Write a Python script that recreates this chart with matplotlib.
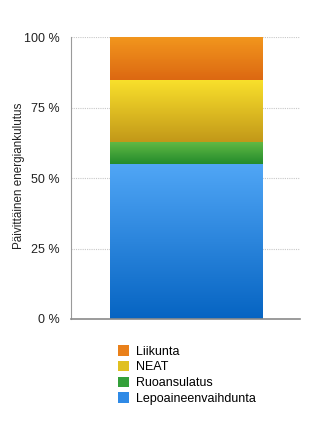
import matplotlib.pyplot as plt
import numpy as np
from matplotlib.patches import Patch
from matplotlib.colors import LinearSegmentedColormap

plt.rcParams['font.family'] = ['Liberation Sans', 'DejaVu Sans']

categories = ['Lepoaineenvaihdunta', 'Ruoansulatus', 'NEAT', 'Liikunta']
shares = [55, 8, 22, 15]
# top and bottom colour of each gradient segment
top_colors = ['#50a6f6', '#64ba45', '#f9e02b', '#f2961d']
bottom_colors = ['#0664c2', '#238c2c', '#c29819', '#dc6812']
legend_colors = ['#2f8ae6', '#34a03a', '#e0c020', '#e9801a']
yticks = [0, 25, 50, 75, 100]

fig = plt.figure(figsize=(3.23, 4.32), dpi=100)
ax = fig.add_axes([0.2198, 0.2616, 0.709, 0.6516])

bottom = 0
for share, c_top, c_bot in zip(shares, top_colors, bottom_colors):
    bars = ax.bar(0, share, bottom=bottom, width=0.664, color='none', linewidth=0)
    rect = bars[0]
    cmap = LinearSegmentedColormap.from_list('g', [c_bot, c_top])
    grad = np.linspace(0, 1, 256).reshape(-1, 1)
    im = ax.imshow(grad, cmap=cmap, origin='lower', aspect='auto',
                   extent=(-0.332, 0.332, bottom, bottom + share), zorder=2)
    im.set_clip_path(rect)
    bottom += share

ax.set_xlim(-0.502, 0.498)
ax.set_ylim(0, 100)
ax.set_yticks(yticks)
ax.set_yticklabels([f'{t} %' for t in yticks], fontsize=9)
ax.set_xticks([])
ax.tick_params(axis='y', length=0, pad=8, colors='#222222')
for t in yticks[1:]:
    ax.axhline(t, color='#c8c8c8', linestyle=(0, (1, 1)), linewidth=0.8, zorder=1)

for side in ['top', 'right']:
    ax.spines[side].set_visible(False)
ax.spines['left'].set_color('#9a9a9a')
ax.spines['bottom'].set_color('#8a8a8a')
ax.spines['bottom'].set_linewidth(1.2)

ax.set_ylabel('Päivittäinen energiankulutus', fontsize=8.4, color='#222222')
ax.yaxis.set_label_coords(-0.2, 0.51)

handles = [Patch(facecolor=c, edgecolor='none') for c in legend_colors]
fig.legend(handles[::-1], categories[::-1], loc='upper left',
           bbox_to_anchor=(0.345, 0.215), frameon=False, fontsize=9,
           handlelength=0.9, handleheight=0.9, handletextpad=0.6,
           labelspacing=0.25, borderpad=0)

plt.savefig('out.png', dpi=100)
